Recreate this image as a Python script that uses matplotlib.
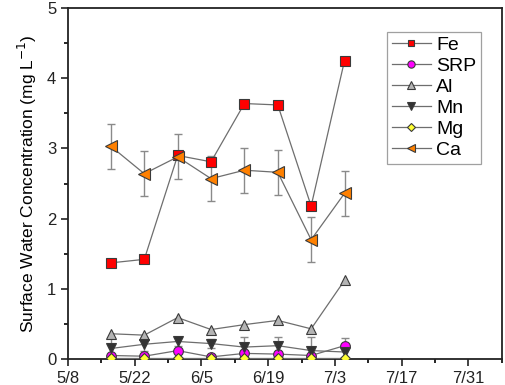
import matplotlib
matplotlib.use("Agg")
import matplotlib.pyplot as plt
import pandas as pd
from matplotlib.ticker import MultipleLocator

plt.rcParams['font.family'] = ['Liberation Sans', 'DejaVu Sans']

dates = ['2019-05-17', '2019-05-24', '2019-05-31', '2019-06-07',
         '2019-06-14', '2019-06-21', '2019-06-28', '2019-07-05']
fe = [1.37, 1.42, 2.90, 2.81, 3.64, 3.62, 2.18, 4.25]
srp = [0.05, 0.04, 0.12, 0.03, 0.08, 0.07, 0.05, 0.19]
al = [0.36, 0.34, 0.59, 0.42, 0.49, 0.55, 0.43, 1.12]
mn = [0.15, 0.21, 0.25, 0.22, 0.17, 0.19, 0.12, 0.10]
mg = [0.01, 0.01, 0.01, 0.01, 0.01, 0.01, 0.01, 0.01]
ca = [3.03, 2.64, 2.88, 2.57, 2.69, 2.66, 1.70, 2.36]
ca_err = [0.32, 0.32, 0.32, 0.32, 0.32, 0.32, 0.32, 0.32]
mn_err = [0.15, 0.10, 0.06, 0.07, 0.14, 0.12, 0.19, 0.20]
tick_dates = ['2019-05-08', '2019-05-22', '2019-06-05', '2019-06-19',
              '2019-07-03', '2019-07-17', '2019-07-31']
tick_labels = ['5/8', '5/22', '6/5', '6/19', '7/3', '7/17', '7/31']
minor_dates = ['2019-05-15', '2019-05-29', '2019-06-12', '2019-06-26',
               '2019-07-10', '2019-07-24', '2019-08-07']

x = pd.to_datetime(dates)
xt = pd.to_datetime(tick_dates)

fig = plt.figure(figsize=(5.05, 3.85), dpi=100)
ax = fig.add_axes([0.1347, 0.0675, 0.859, 0.9115])

line_kw = dict(color='#6e6e6e', lw=0.9, markeredgecolor='#3a3a3a', markeredgewidth=0.8)
err_kw = dict(ecolor='#8a8a8a', elinewidth=1.0, capsize=3, capthick=1.0)

ax.errorbar(x, mn, yerr=mn_err, fmt='none', zorder=2, **err_kw)
ax.errorbar(x, ca, yerr=ca_err, fmt='none', zorder=2, **err_kw)

ax.plot(x, fe, marker='s', markerfacecolor='#ff0000', markersize=6.5, label='Fe', zorder=3, **line_kw)
ax.plot(x, srp, marker='o', markerfacecolor='#ff00ff', markersize=7, label='SRP', zorder=3, **line_kw)
ax.plot(x, al, marker='^', markerfacecolor='#b4b4b4', markersize=7.5, label='Al', zorder=3, **line_kw)
ax.plot(x, mn, marker='v', markerfacecolor='#333333', markersize=7.5, label='Mn', zorder=3, **line_kw)
ax.plot(x, mg, marker='D', markerfacecolor='#ffff33', markersize=5.5, label='Mg', zorder=3, **line_kw)
ax.plot(x, ca, marker='<', markerfacecolor='#ff8000', markersize=8, label='Ca', zorder=3, **line_kw)

ax.set_ylim(0, 5)
ax.set_xlim(pd.Timestamp('2019-05-08'), pd.Timestamp('2019-08-07'))
ax.set_xticks(xt)
ax.set_xticklabels(tick_labels)
ax.set_xticks(pd.to_datetime(minor_dates), minor=True)
ax.yaxis.set_major_locator(MultipleLocator(1))
ax.yaxis.set_minor_locator(MultipleLocator(0.5))

ax.tick_params(which='major', direction='out', length=5, width=1.2, labelsize=12, colors='#222222')
ax.tick_params(which='minor', direction='out', length=3, width=1.2)
ax.tick_params(axis='x', which='both', top=False)
ax.tick_params(axis='y', which='both', right=False)
for s in ax.spines.values():
    s.set_linewidth(1.3)
    s.set_color('#222222')

ax.set_ylabel('Surface Water Concentration (mg L$^{-1}$)', fontsize=12.5, labelpad=6)

leg = ax.legend(loc='upper right', bbox_to_anchor=(0.953, 0.933), fontsize=14,
                frameon=True, fancybox=False, edgecolor='#888888',
                handlelength=2.0, handletextpad=0.3, labelspacing=0.17,
                borderpad=0.25, borderaxespad=0, markerscale=0.75)
leg.get_frame().set_linewidth(0.9)

fig.savefig('out.png', dpi=100)
